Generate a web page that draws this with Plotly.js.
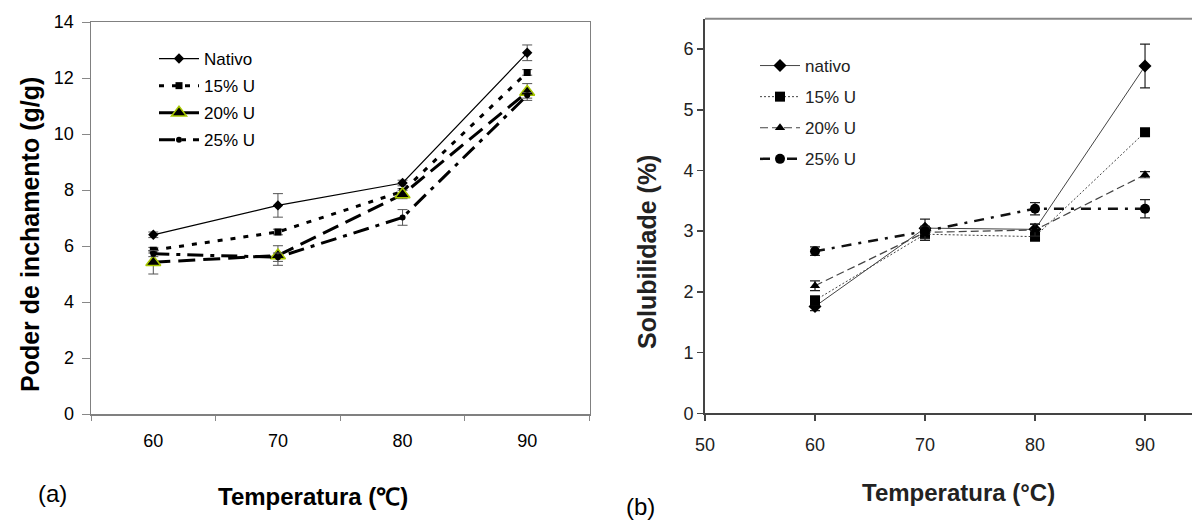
<!DOCTYPE html>
<html>
<head>
<meta charset="utf-8">
<script src="https://cdn.plot.ly/plotly-3.0.1.min.js"></script>
<style>html,body{margin:0;padding:0;background:#fff;}#chart{width:1192px;height:523px;}</style>
</head>
<body>
<div id="chart"></div>
<script>
// ---- Panel (a): Poder de inchamento ----
const catsA = ['60', '70', '80', '90'];
const labelsA = ['Nativo', '15% U', '20% U', '25% U'];
const nativoA = [6.4, 7.45, 8.25, 12.9];
const u15A = [5.85, 6.5, 7.95, 12.2];
const u20A = [5.42, 5.66, 7.84, 11.5];
const u25A = [5.72, 5.6, 7.02, 11.38];
const errNativoA = [0.1, 0.42, 0.1, 0.28];
const errU15A = [0.1, 0.1, 0.1, 0.1];
const errU20A = [0.42, 0.35, 0.15, 0.3];
const errU25A = [0.1, 0.15, 0.28, 0.1];

// ---- Panel (b): Solubilidade ----
const tempB = [60, 70, 80, 90];
const labelsB = ['nativo', '15% U', '20% U', '25% U'];
const nativoB = [1.76, 3.05, 3.03, 5.72];
const u15B = [1.86, 2.95, 2.91, 4.63];
const u20B = [2.1, 2.98, 3.02, 3.93];
const u25B = [2.67, 3.0, 3.37, 3.37];
const errNativoB = [0.07, 0.15, 0.08, 0.36];
const errU15B = [0.07, 0.1, 0.05, 0.05];
const errU20B = [0.08, 0.1, 0.1, 0.05];
const errU25B = [0.07, 0.05, 0.1, 0.15];

const W = 1192, H = 523;
const px = v => v / W;
const py = v => 1 - v / H;

function errA(arr) {
  return {type: 'data', array: arr, visible: true, color: '#555', thickness: 1, width: 5};
}
function errB(arr) {
  return {type: 'data', array: arr, visible: true, color: '#222', thickness: 1.2, width: 5};
}

const traces = [
  {x: catsA, y: nativoA, name: labelsA[0], legendgroup: 'a1', xaxis: 'x', yaxis: 'y', legend: 'legend', mode: 'lines+markers',
   line: {color: '#000', width: 1.2}, marker: {symbol: 'diamond', size: 8, color: '#000'}, error_y: errA(errNativoA)},
  {x: catsA, y: u15A, name: labelsA[1], legendgroup: 'a2', xaxis: 'x', yaxis: 'y', legend: 'legend', mode: 'lines+markers',
   line: {color: '#000', width: 3, dash: '5px,8px'}, marker: {symbol: 'square', size: 7, color: '#000'}, error_y: errA(errU15A)},
  {x: catsA, y: u20A, name: labelsA[2], legendgroup: 'a3', xaxis: 'x', yaxis: 'y', legend: 'legend', mode: 'lines+markers',
   line: {color: '#000', width: 3, dash: '17px,8px'}, marker: {symbol: 'triangle-up', size: 13, color: '#000', line: {color: '#a8c800', width: 1.5}}, error_y: errA(errU20A)},
  {x: catsA, y: u25A, name: labelsA[3], legendgroup: 'a4', xaxis: 'x', yaxis: 'y', legend: 'legend', mode: 'lines+markers',
   line: {color: '#000', width: 3, dash: '16px,7px,4px,7px'}, marker: {symbol: 'circle', size: 6, color: '#000'}, error_y: errA(errU25A)},

  {x: tempB, y: nativoB, name: labelsB[0], legendgroup: 'b1', xaxis: 'x2', yaxis: 'y2', legend: 'legend2', mode: 'lines+markers',
   line: {color: '#444', width: 1}, marker: {symbol: 'diamond', size: 10, color: '#000'}, error_y: errB(errNativoB)},
  {x: tempB, y: u15B, name: labelsB[1], legendgroup: 'b2', xaxis: 'x2', yaxis: 'y2', legend: 'legend2', mode: 'lines+markers',
   line: {color: '#444', width: 1, dash: '2px,2px'}, marker: {symbol: 'square', size: 10, color: '#000'}, error_y: errB(errU15B)},
  {x: tempB, y: u20B, name: labelsB[2], legendgroup: 'b3', xaxis: 'x2', yaxis: 'y2', legend: 'legend2', mode: 'lines+markers',
   line: {color: '#444', width: 1.2, dash: '8px,4px'}, marker: {symbol: 'triangle-up', size: 9, color: '#000'}, error_y: errB(errU20B)},
  {x: tempB, y: u25B, name: labelsB[3], legendgroup: 'b4', xaxis: 'x2', yaxis: 'y2', legend: 'legend2', mode: 'lines+markers',
   line: {color: '#111', width: 2.5, dash: '10px,7px,3px,7px'}, marker: {symbol: 'circle', size: 10, color: '#000'}, error_y: errB(errU25B)}
];

const fontA = {family: 'Liberation Sans, Arial, sans-serif', color: '#000'};
const fontB = {family: 'Liberation Sans, Arial, sans-serif', color: '#222'};

const layout = {
  width: W, height: H,
  margin: {l: 0, r: 0, t: 0, b: 0},
  paper_bgcolor: '#fff', plot_bgcolor: '#fff',
  showlegend: true,
  xaxis: {
    domain: [px(91), px(589.5)], anchor: 'y', type: 'category',
    categoryorder: 'array', categoryarray: catsA, range: [-0.5, 3.5],
    tickson: 'boundaries', ticks: 'outside', ticklen: 5, tickcolor: '#888', tickwidth: 1,
    ticklabelstandoff: 10,
    showline: true, linecolor: '#808080', linewidth: 1.5, mirror: true, showgrid: false, zeroline: false,
    tickfont: Object.assign({size: 18}, fontA)
  },
  yaxis: {
    domain: [py(414), py(22)], anchor: 'x', range: [0, 14], dtick: 2,
    ticks: 'outside', ticklen: 8, tickcolor: '#888', tickwidth: 1,
    ticklabelstandoff: 4,
    showline: true, linecolor: '#808080', linewidth: 1.5, mirror: true, showgrid: false, zeroline: false,
    tickfont: Object.assign({size: 18}, fontA)
  },
  xaxis2: {
    domain: [px(705), 1], anchor: 'y2', range: [50, 94.27], tickvals: [50, 60, 70, 80, 90],
    ticks: 'outside', ticklen: 6, tickcolor: '#444', tickwidth: 1.5,
    ticklabelstandoff: 8,
    showline: true, linecolor: '#444', linewidth: 2, mirror: false, showgrid: false, zeroline: false,
    tickfont: Object.assign({size: 18}, fontB)
  },
  yaxis2: {
    domain: [py(413.3), py(18.7)], anchor: 'x2', range: [0, 6.5], tickvals: [0, 1, 2, 3, 4, 5, 6],
    ticks: 'outside', ticklen: 6, tickcolor: '#444', tickwidth: 1.5,
    showline: true, linecolor: '#444', linewidth: 2, mirror: false, showgrid: false, zeroline: false,
    tickfont: Object.assign({size: 18}, fontB)
  },
  legend: {
    x: px(154), y: py(41), xanchor: 'left', yanchor: 'top', bgcolor: 'rgba(0,0,0,0)',
    font: Object.assign({size: 17}, fontA), tracegroupgap: 2, itemwidth: 40, traceorder: 'grouped'
  },
  legend2: {
    x: px(755), y: py(48), xanchor: 'left', yanchor: 'top', bgcolor: 'rgba(0,0,0,0)',
    font: Object.assign({size: 17}, fontB), tracegroupgap: 6, itemwidth: 40, traceorder: 'grouped'
  },
  shapes: [
    {type: 'line', xref: 'paper', yref: 'paper', x0: px(705), x1: 1, y0: py(18.7), y1: py(18.7), line: {color: '#888', width: 2}}
  ],
  annotations: [
    {text: '<b>Temperatura (℃)</b>', xref: 'paper', yref: 'paper', x: px(313), y: py(496), xanchor: 'center', yanchor: 'middle', showarrow: false, font: Object.assign({size: 24}, fontA)},
    {text: '<b>Poder de inchamento (g/g)</b>', xref: 'paper', yref: 'paper', x: px(30), y: py(235), textangle: -90, xanchor: 'center', yanchor: 'middle', showarrow: false, font: Object.assign({size: 25}, fontA)},
    {text: '<b>Temperatura (°C)</b>', xref: 'paper', yref: 'paper', x: px(958), y: py(492), xanchor: 'center', yanchor: 'middle', showarrow: false, font: Object.assign({size: 24}, fontB)},
    {text: '<b>Solubilidade (%)</b>', xref: 'paper', yref: 'paper', x: px(647), y: py(252), textangle: -90, xanchor: 'center', yanchor: 'middle', showarrow: false, font: Object.assign({size: 25}, fontB)},
    {text: '(a)', xref: 'paper', yref: 'paper', x: px(52), y: py(493), xanchor: 'center', yanchor: 'middle', showarrow: false, font: Object.assign({size: 24}, fontA)},
    {text: '(b)', xref: 'paper', yref: 'paper', x: px(640), y: py(506), xanchor: 'center', yanchor: 'middle', showarrow: false, font: Object.assign({size: 24}, fontA)}
  ]
};

Plotly.newPlot('chart', traces, layout, {displayModeBar: false, staticPlot: true});
</script>
</body>
</html>
